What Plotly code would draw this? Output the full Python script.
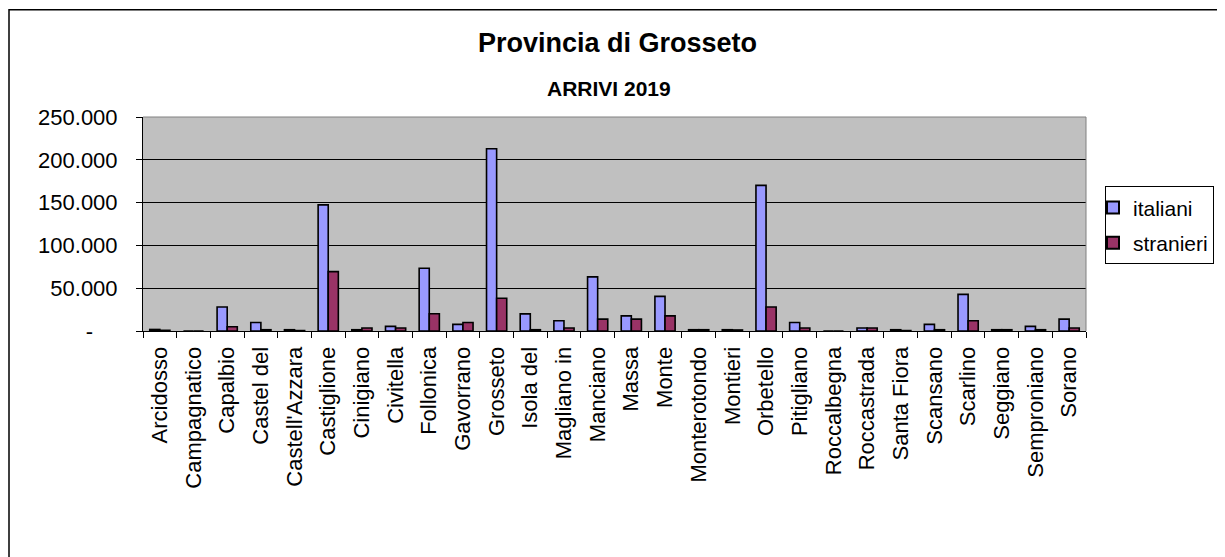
import plotly.graph_objects as go

categories = ["Arcidosso", "Campagnatico", "Capalbio", "Castel del", "Castell'Azzara",
              "Castiglione", "Cinigiano", "Civitella", "Follonica", "Gavorrano",
              "Grosseto", "Isola del", "Magliano in", "Manciano", "Massa", "Monte",
              "Monterotondo", "Montieri", "Orbetello", "Pitigliano", "Roccalbegna",
              "Roccastrada", "Santa Fiora", "Scansano", "Scarlino", "Seggiano",
              "Semproniano", "Sorano"]

italiani = [1800, 0, 28100, 10000, 1500, 147300, 1500, 5400, 73300, 7700,
            212900, 20000, 12000, 63200, 17700, 40500, 1500, 1500, 170100, 10000,
            0, 3500, 1500, 7700, 42800, 1500, 5400, 13900]

stranieri = [800, 0, 5000, 1500, 500, 69400, 3500, 3500, 20100, 10000,
             38200, 1500, 3500, 13900, 13900, 17700, 1500, 1200, 28100, 3500,
             0, 3500, 500, 1500, 12000, 1500, 1500, 3500]

y_tickvals = [0, 50000, 100000, 150000, 200000, 250000]
y_ticktext = ["-\u00a0\u00a0\u00a0\u00a0", "50.000", "100.000", "150.000", "200.000", "250.000"]

FONT = "Liberation Sans, Arial, sans-serif"

# page body has an 8px default margin: work in reference pixels, shift by OFF
OFF = 8
W, H = 1225 - OFF, 557 - OFF
PL, PR, PT, PB = 143, 1086, 116.5, 331   # plot area in reference pixels
L = PL - OFF
R = W - (PR - OFF)
T = PT - OFF
B = H - (PB - OFF)
pw = W - L - R
ph = H - T - B


def px_x(x):
    return (x - OFF - L) / pw


def px_y(y):
    return (H - B - (y - OFF)) / ph


fig = go.Figure()
fig.add_trace(go.Bar(x=categories, y=italiani, name="italiani", legendgroup="a",
                     marker=dict(color="#9999FF", line=dict(color="black", width=1.6))))
fig.add_trace(go.Bar(x=categories, y=stranieri, name="stranieri", legendgroup="b",
                     marker=dict(color="#993366", line=dict(color="black", width=1.6))))

fig.update_layout(
    width=W, height=H,
    margin=dict(l=L, r=R, t=T, b=B, autoexpand=False),
    paper_bgcolor="white",
    plot_bgcolor="#C0C0C0",
    font=dict(family=FONT, color="black", size=20),
    barmode="group",
    bargap=0.40,
    bargroupgap=0,
    showlegend=True,
    legend=dict(x=px_x(1105), y=px_y(186), xanchor="left", yanchor="top",
                bordercolor="black", borderwidth=1, bgcolor="white",
                font=dict(size=21, family=FONT), tracegroupgap=5,
                itemsizing="constant", itemwidth=30, indentation=-13),
    xaxis=dict(
        type="category",
        tickangle=-90,
        ticks="outside", ticklen=6, tickcolor="black",
        tickson="boundaries",
        showline=True, linecolor="black", linewidth=1,
        showgrid=False,
        tickfont=dict(size=22, family=FONT),
        ticklabelstandoff=6,
    ),
    yaxis=dict(
        range=[0, 250000],
        tickvals=y_tickvals, ticktext=y_ticktext,
        ticks="outside", ticklen=6, tickcolor="black",
        showline=True, linecolor="black", linewidth=1,
        showgrid=True, gridcolor="black", gridwidth=1,
        zeroline=False,
        tickfont=dict(size=22, family=FONT),
        ticklabelstandoff=14,
    ),
    annotations=[
        dict(text="<b>Provincia di Grosseto</b>", xref="paper", yref="paper",
             x=px_x(617), y=px_y(42), xanchor="center", yanchor="middle",
             showarrow=False, font=dict(size=27, family=FONT)),
        dict(text="<b>ARRIVI 2019</b>", xref="paper", yref="paper",
             x=px_x(609), y=px_y(88), xanchor="center", yanchor="middle",
             showarrow=False, font=dict(size=21, family=FONT)),
    ],
    shapes=[
        dict(type="rect", xref="paper", yref="paper",
             x0=px_x(9), x1=px_x(1260), y0=px_y(9), y1=px_y(600),
             line=dict(color="black", width=1.5), fillcolor="rgba(0,0,0,0)", layer="above"),
        dict(type="line", xref="paper", yref="paper",
             x0=0, x1=1, y0=1, y1=1, line=dict(color="#808080", width=1), layer="above"),
        dict(type="line", xref="paper", yref="paper",
             x0=1, x1=1, y0=0, y1=1, line=dict(color="#808080", width=1), layer="above"),
    ],
)

fig.write_html("out.html")
